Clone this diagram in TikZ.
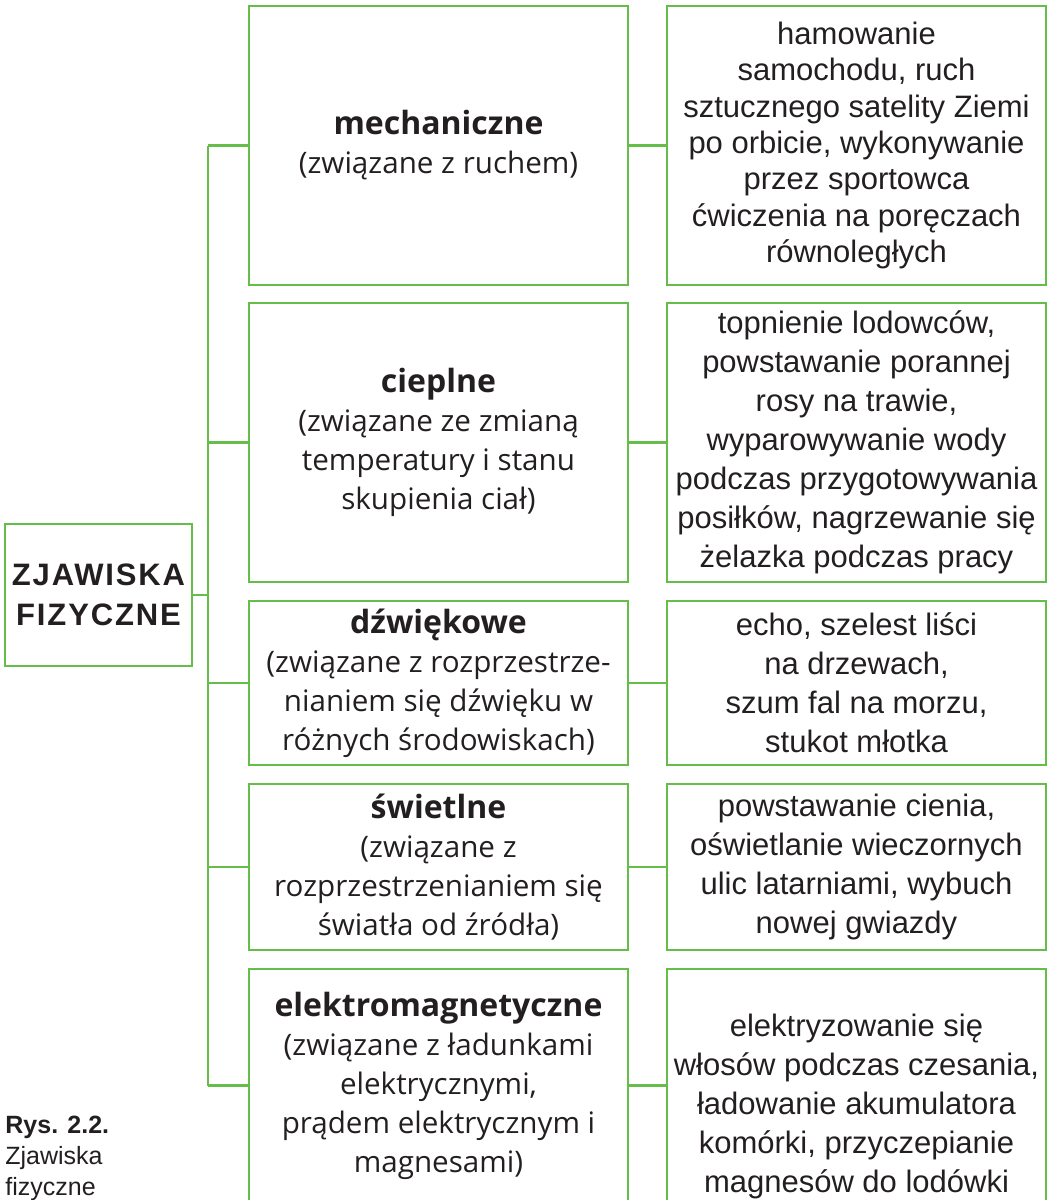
\documentclass[tikz,border=0pt]{standalone}
\usepackage{fontspec}
\setmainfont{Liberation Sans}
\newfontfamily\midfont{Open Sans}
\newfontfamily\rootfont[LetterSpace=6]{Liberation Sans}
\definecolor{ramka}{RGB}{102,190,74}
\definecolor{tekst}{RGB}{35,31,32}

\begin{document}
\begin{tikzpicture}[x=0.5pt, y=-0.5pt, text=tekst,
  box/.style={draw=ramka, line width=1.4pt, inner sep=0pt, minimum width=189.5pt, align=center},
  rodzaj/.style={box, font=\midfont\fontsize{14.8}{19.5}\selectfont},
  przyklad/.style={box, font=\fontsize{15.5}{19.5}\selectfont},
  lacznik/.style={draw=ramka, line width=1.4pt}]
\useasboundingbox (0,0) rectangle (1047,1200);

% lewy blok
\node[box, minimum width=93.5pt, minimum height=71pt, font=\rootfont\bfseries\fontsize{15.5}{20}\selectfont] (root) at (98.5,595) {ZJAWISKA\\FIZYCZNE};

% rodzaje zjawisk
\newcommand{\naglowek}[1]{{\fontsize{16}{19.5}\selectfont\bfseries #1}}
\node[rodzaj, minimum height=139.5pt] (mid1) at (438.5,145.5) {\naglowek{mechaniczne}\\(związane z ruchem)};
\node[rodzaj, minimum height=139.5pt] (mid2) at (438.5,442.5) {\naglowek{cieplne}\\(związane ze zmianą\\temperatury i stanu\\skupienia ciał)};
\node[rodzaj, minimum height=82pt] (mid3) at (438.5,683) {\naglowek{dźwiękowe}\\(związane z rozprzestrze-\\nianiem się dźwięku w\\różnych środowiskach)};
\node[rodzaj, minimum height=83pt] (mid4) at (438.5,867) {\naglowek{świetlne}\\(związane z\\rozprzestrzenianiem się\\światła od źródła)};
\node[rodzaj, minimum height=116.5pt] (mid5) at (438.5,1085.5) {\naglowek{elektromagnetyczne}\\(związane z ładunkami\\elektrycznymi,\\prądem elektrycznym i\\magnesami)};

% przyklady
\node[przyklad, minimum height=139.5pt, font=\fontsize{15.5}{18.2}\selectfont] (ex1) at (856.5,145.5) {hamowanie\\samochodu, ruch\\sztucznego satelity Ziemi\\po orbicie, wykonywanie\\przez sportowca\\ćwiczenia na poręczach\\równoległych};
\node[przyklad, minimum height=139.5pt] (ex2) at (856.5,442.5) {topnienie lodowców,\\powstawanie porannej\\rosy na trawie,\\wyparowywanie wody\\podczas przygotowywania\\posiłków, nagrzewanie się\\żelazka podczas pracy};
\node[przyklad, minimum height=82pt] (ex3) at (856.5,683) {echo, szelest liści\\na drzewach,\\szum fal na morzu,\\stukot młotka};
\node[przyklad, minimum height=83pt] (ex4) at (856.5,867) {powstawanie cienia,\\oświetlanie wieczornych\\ulic latarniami, wybuch\\nowej gwiazdy};
\node[przyklad, minimum height=137pt] (ex5) at (856.5,1106) {elektryzowanie się\\włosów podczas czesania,\\ładowanie akumulatora\\komórki, przyczepianie\\magnesów do lodówki};

% polaczenia
\coordinate (pien) at (208,0);
\draw[lacznik] (root.east) -- (root.east -| pien);
\draw[lacznik] (mid1.west -| pien) -- (mid5.west -| pien);
\foreach \i in {1,...,5}{
  \draw[lacznik] (mid\i.west -| pien) -- (mid\i.west);
  \draw[lacznik] (mid\i.east) -- (mid\i.east -| ex\i.west);
}

% podpis
\node[anchor=north west, align=left, inner sep=0pt, font=\fontsize{12.5}{15.5}\selectfont] (podpis) at (5,1116) {\textbf{Rys. 2.2.}\\Zjawiska\\fizyczne};
\end{tikzpicture}
\end{document}
